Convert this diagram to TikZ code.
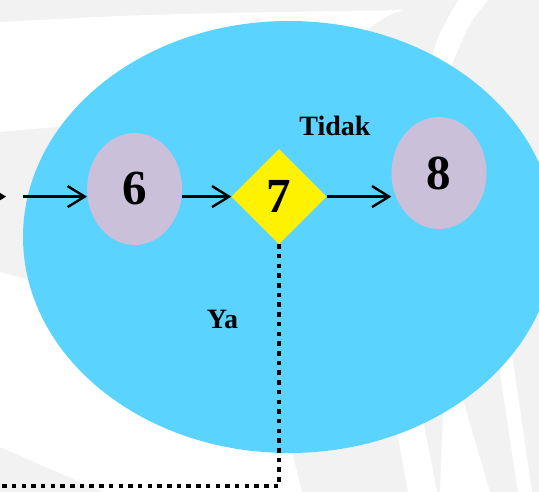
\documentclass[tikz,border=0pt]{standalone}
\usepackage{fontspec}
\setmainfont{Liberation Serif}
\usetikzlibrary{shapes.geometric,arrows.meta}
\definecolor{bggrey}{RGB}{242,242,242}
\definecolor{cyanE}{RGB}{91,211,255}
\definecolor{lav}{RGB}{203,192,218}
\begin{document}
\begin{tikzpicture}[x=1pt,y=-1pt,
  bigell/.style={ellipse, fill=cyanE, minimum width=532pt, minimum height=432pt, inner sep=0pt},
  stepnode/.style={ellipse, fill=lav, minimum width=95pt, minimum height=112pt, inner sep=0pt,
    font=\bfseries\fontsize{49}{49}\selectfont},
  decnode/.style={diamond, fill=yellow, minimum width=95pt, minimum height=95pt, inner sep=0pt,
    font=\bfseries\fontsize{49}{49}\selectfont},
  flow/.style={line width=2.4pt, -{Straight Barb[length=17pt,width=21pt,line width=2.4pt]}},
  dotline/.style={line width=4.5pt, dash pattern=on 4.5pt off 5.2pt},
  lbl/.style={font=\bfseries\fontsize{28}{28}\selectfont, anchor=base, inner sep=0pt}]
\useasboundingbox (0,0) rectangle (539,492);
\clip (0,0) rectangle (539,492);
% background swooshes
\fill[bggrey] (0,0) rectangle (539,492);
\fill[white] (0,22) .. controls (150,14) .. (403,10)
  .. controls (385,16) .. (355,40) -- (200,100) -- (80,125) -- (0,132) -- cycle;
\fill[white] (458,0) -- (488,0) .. controls (468,25) .. (450,70) -- (428,70)
  .. controls (438,35) .. (458,0) -- cycle;
\fill[white] (0,272) -- (50,285.5) -- (150,390) -- (200,420) -- (292,452) -- (302,492)
  -- (103,492) -- (0,447) -- cycle;
\fill[white] (395,420) -- (408,492) -- (437,492) -- (421,410) -- cycle;
\fill[white] (443.7,395) -- (440,492) -- (490,492) -- (458.6,385) -- cycle;
\fill[white] (495,340) -- (518,492) -- (532,492) -- (510,340) -- cycle;
% main ellipse
\node[bigell] (big) at (289,237) {};
% nodes
\node[stepnode] (6) at (134.6,189) {6};
\node[decnode] (7) at (279,196.6) {7};
\node[stepnode] (8) at (439,173) {8};
% coordinates for free ends
\coordinate (p5) at (-60,196.6);
\coordinate (q5) at (6,196.6);
\coordinate (a6) at (23,196.6);
\coordinate (c1) at (279,486);
\coordinate (c2) at (-20,486);
% connectors
\draw[flow] (p5) -- (q5);
\draw[flow] (a6) -- (a6 -| 6.west);
\draw[flow] (7.west -| 6.east) -- (7.west);
\draw[flow] (7.east) -- (7.east -| 8.west);
\draw[dotline] (7.south) -- (c1) -- (c2);
% labels
\node[lbl] (tidak) at (335,136) {Tidak};
\node[lbl] (ya) at (222.5,328) {Ya};
\end{tikzpicture}
\end{document}
